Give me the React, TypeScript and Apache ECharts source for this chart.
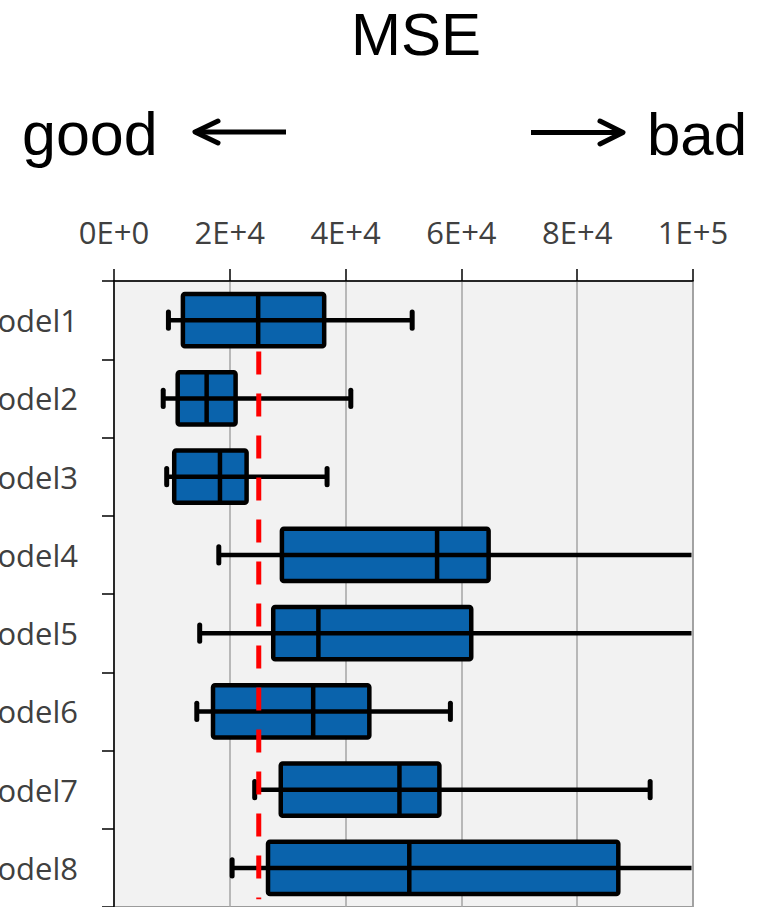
import React, { useEffect, useRef } from "react";
import * as echarts from "echarts";

// ---- data ----
const categories = ["Model1", "Model2", "Model3", "Model4", "Model5", "Model6", "Model7", "Model8"];
const whiskerLow = [9400, 8500, 9100, 18100, 14800, 14300, 24300, 20400];
const quartile1 = [11900, 11000, 10400, 29000, 27500, 17100, 28800, 26600];
const medians = [24900, 16000, 18300, 55800, 35300, 34400, 49300, 51000];
const quartile3 = [36300, 21000, 22900, 64700, 61700, 44100, 56200, 87100];
// upper whiskers of Model4, Model5, Model8 run past the axis end (estimated)
const whiskerHigh = [51500, 40900, 36800, 110000, 110000, 58100, 92600, 110000];
const referenceValue = 25000;
const referenceSpan = [0.9, 7.9]; // in category-band units, top to bottom
const xTicks = { min: 0, max: 100000, interval: 20000 };

const sci = (v: number) => {
  if (v === 0) return "0E+0";
  const e = Math.floor(Math.log10(v));
  const m = Math.round(v / Math.pow(10, e));
  return `${m}E+${e}`;
};

export default function App() {
  const ref = useRef<HTMLDivElement>(null);
  useEffect(() => {
    if (!ref.current) return;
    const chart = echarts.init(ref.current, null, { renderer: "svg" });
    const boxData = categories.map((_, i) => [
      i,
      whiskerLow[i],
      quartile1[i],
      medians[i],
      quartile3[i],
      whiskerHigh[i],
    ]);
    const LW = 4.5;
    const option: any = {
      animation: false,
      backgroundColor: "#ffffff",
      grid: {
        left: 114,
        right: 72,
        top: 281,
        bottom: 0,
        containLabel: false,
        outerBoundsMode: "none",
        show: true,
        backgroundColor: "#f2f2f2",
        borderColor: "#7f7f7f",
        borderWidth: 1.5,
      },
      xAxis: {
        type: "value",
        position: "top",
        min: xTicks.min,
        max: xTicks.max,
        interval: xTicks.interval,
        axisLine: { show: true, lineStyle: { color: "#000", width: 1.5 } },
        axisTick: { show: true, length: 12, lineStyle: { color: "#000", width: 1.5 } },
        axisLabel: {
          formatter: sci,
          fontFamily: "Open Sans",
          fontSize: 31,
          color: "#404040",
          margin: 34,
        },
        splitLine: { show: true, lineStyle: { color: "#a5a5a5", width: 1.5 } },
      },
      yAxis: [
        {
          type: "category",
          data: categories,
          inverse: true,
          axisLine: { show: true, lineStyle: { color: "#000", width: 1.5 } },
          axisTick: { show: true, length: 12, lineStyle: { color: "#000", width: 1.5 } },
          axisLabel: {
            fontFamily: "Open Sans",
            fontSize: 31,
            color: "#404040",
            margin: 36,
          },
          splitLine: { show: false },
        },
        {
          type: "value",
          min: 0,
          max: categories.length,
          inverse: true,
          show: false,
          splitLine: { show: false },
        },
      ],
      series: [
        {
          type: "custom",
          z: 2,
          data: boxData,
          encode: { x: [1, 2, 3, 4, 5], y: 0 },
          renderItem: (params: any, api: any) => {
            const idx = api.value(0);
            const pLo = api.coord([api.value(1), idx]);
            const pQ1 = api.coord([api.value(2), idx]);
            const pMed = api.coord([api.value(3), idx]);
            const pQ3 = api.coord([api.value(4), idx]);
            const pHi = api.coord([api.value(5), idx]);
            const band = api.size([0, 1])[1];
            const cs = params.coordSys;
            const xMin = cs.x;
            const xMax = cs.x + cs.width;
            const clamp = (x: number) => Math.max(xMin, Math.min(xMax - 1.5, x));
            const yc = pMed[1];
            const boxH = band * 0.67;
            const capH = band * 0.21;
            const stroke = { stroke: "#000", lineWidth: LW, lineCap: "butt" };
            const children: any[] = [
              {
                type: "rect",
                shape: { x: pQ1[0], y: yc - boxH / 2, width: pQ3[0] - pQ1[0], height: boxH, r: 2 },
                style: { fill: "#0a63ac", stroke: "#000", lineWidth: LW, lineJoin: "round" },
              },
              {
                type: "line",
                shape: { x1: clamp(pLo[0]), y1: yc, x2: clamp(pHi[0]), y2: yc },
                style: stroke,
              },
              {
                type: "line",
                shape: { x1: pMed[0], y1: yc - boxH / 2, x2: pMed[0], y2: yc + boxH / 2 },
                style: stroke,
              },
            ];
            if (pLo[0] >= xMin && pLo[0] <= xMax) {
              children.push({
                type: "line",
                shape: { x1: pLo[0], y1: yc - capH / 2, x2: pLo[0], y2: yc + capH / 2 },
                style: { stroke: "#000", lineWidth: 5, lineCap: "round" },
              });
            }
            if (pHi[0] >= xMin && pHi[0] <= xMax) {
              children.push({
                type: "line",
                shape: { x1: pHi[0], y1: yc - capH / 2, x2: pHi[0], y2: yc + capH / 2 },
                style: { stroke: "#000", lineWidth: 5, lineCap: "round" },
              });
            }
            return { type: "group", children };
          },
        },
        {
          type: "line",
          z: 5,
          yAxisIndex: 1,
          symbol: "none",
          silent: true,
          data: [
            [referenceValue, referenceSpan[0]],
            [referenceValue, referenceSpan[1]],
          ],
          lineStyle: { color: "#ff0000", width: 5, type: [23, 19], cap: "butt" },
        },
      ],
      graphic: [
        {
          type: "text",
          x: 416,
          y: 34,
          style: {
            text: "MSE",
            font: '60px "Liberation Sans", Arial, sans-serif',
            fill: "#000",
            textAlign: "center",
            textVerticalAlign: "middle",
          },
        },
        {
          type: "text",
          x: 22,
          y: 134,
          style: {
            text: "good",
            font: '61px "Liberation Sans", Arial, sans-serif',
            fill: "#000",
            textAlign: "left",
            textVerticalAlign: "middle",
          },
        },
        {
          type: "text",
          x: 747,
          y: 134,
          style: {
            text: "bad",
            font: '60px "Liberation Sans", Arial, sans-serif',
            fill: "#000",
            textAlign: "right",
            textVerticalAlign: "middle",
          },
        },
        {
          type: "line",
          shape: { x1: 195, y1: 132, x2: 286, y2: 132 },
          style: { stroke: "#000", lineWidth: 5 },
        },
        {
          type: "polyline",
          shape: { points: [[218, 121], [195, 132], [218, 143]] },
          style: { stroke: "#000", lineWidth: 5, fill: null, lineCap: "round", lineJoin: "round" },
        },
        {
          type: "line",
          shape: { x1: 531, y1: 132.5, x2: 622, y2: 132.5 },
          style: { stroke: "#000", lineWidth: 5 },
        },
        {
          type: "polyline",
          shape: { points: [[600, 121], [623, 132.5], [600, 144]] },
          style: { stroke: "#000", lineWidth: 5, fill: null, lineCap: "round", lineJoin: "round" },
        },
      ],
    };
    chart.setOption(option);
    return () => chart.dispose();
  }, []);
  return (
    <div
      ref={ref}
      style={{ position: "absolute", left: 0, top: 0, width: 765, height: 907 }}
    />
  );
}
